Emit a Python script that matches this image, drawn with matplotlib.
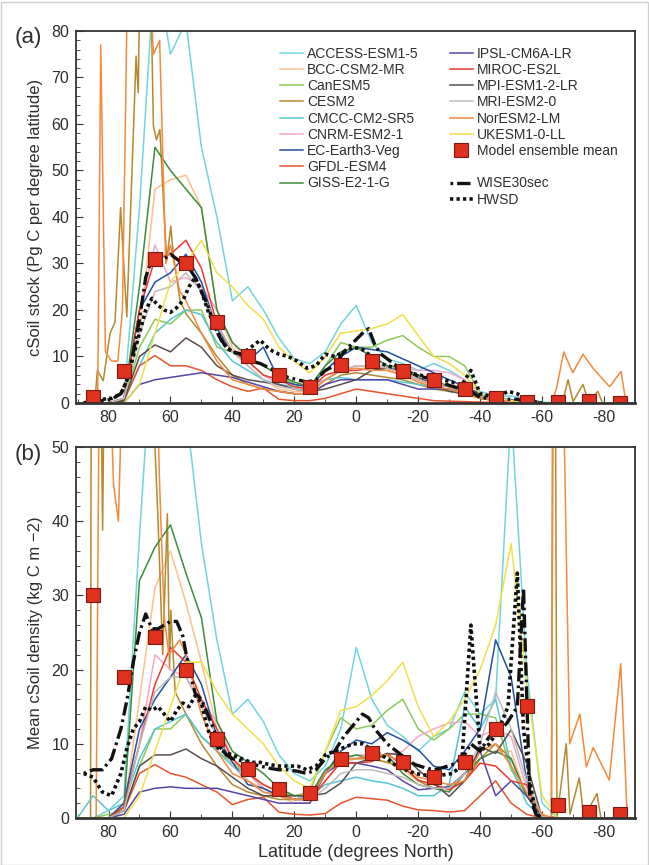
import numpy as np
import matplotlib.pyplot as plt
from matplotlib.lines import Line2D
from matplotlib.patches import Rectangle

plt.rcParams['font.family'] = ['Liberation Sans', 'DejaVu Sans']
plt.rcParams['text.color'] = '#2e2e2e'
plt.rcParams['xtick.labelcolor'] = '#2e2e2e'
plt.rcParams['ytick.labelcolor'] = '#2e2e2e'
plt.rcParams['axes.labelcolor'] = '#2e2e2e'

# common 5-degree latitude grid (90N .. 90S)
LAT = list(range(90, -91, -5))
ENS_LAT = list(range(85, -86, -10))

# ---------------- panel (a): cSoil stock (Pg C per degree latitude) ----------------
access_a = [0, 0, 0, 1, 42, 95, 75, 82, 55, 40, 22, 25, 20, 14, 9.5, 8.5, 11, 17, 21, 13,
            9.5, 8.5, 7, 8.5, 7, 5, 2.5, 1.5, 1.5, 1, 0.2, 0, 0, 0, 0, 0, 0]
bcc_a = [0, 0, 0, 0.5, 15, 46, 48, 49, 42, 20, 12, 8, 5, 3, 2.5, 2.5, 5, 7, 8, 7.5,
         7, 6, 4.5, 3.5, 3, 2.5, 1.5, 1, 0.5, 0.2, 0, 0, 0, 0, 0, 0, 0]
canesm_a = [0, 0, 0, 0.5, 12, 18, 17, 20, 20, 12, 11, 10, 8, 6, 4, 3.5, 8, 13, 12, 12,
            13.5, 14.5, 12, 10, 10, 8, 2, 1, 0.5, 0.2, 0, 0, 0, 0, 0, 0, 0]
cmcc_a = [0, 0, 0, 0.5, 8, 15, 18, 20, 19, 13, 9, 7, 5, 4, 3.5, 4, 5, 5.5, 5, 5,
          5, 4.5, 4, 3.5, 2.8, 2.8, 2, 1, 0.5, 0.2, 0, 0, 0, 0, 0, 0, 0]
cnrm_a = [0, 0, 0, 1, 20, 34, 26, 27, 25, 20, 13, 9, 6, 4, 3, 3, 5, 7, 8, 8,
          8, 7.5, 7, 7, 6.5, 5, 2, 1, 0.5, 0.2, 0, 0, 0, 0, 0, 0, 0]
ec_a = [0, 0, 0, 1, 20, 26, 28, 32, 26, 16, 11, 9, 12, 5, 4, 3.5, 7, 10, 12, 11.5,
        11, 9.5, 8, 6.5, 5, 3.5, 2, 1, 0.7, 0.2, 0, 0, 0, 0, 0, 0, 0]
gfdl_a = [0, 0, 0, 0.5, 8, 10.2, 8, 8, 7, 5, 3.5, 2.5, 3.2, 0.8, 0.5, 0.5, 1, 2, 3, 2.5,
          2, 1.5, 1, 0.5, 0.4, 0.3, 0.2, 0.1, 0, 0, 0, 0, 0, 0, 0, 0, 0]
giss_a = [0, 0, 0, 0.5, 25, 55, 50, 46, 42, 20, 13, 10, 8, 6, 4.5, 3.5, 8, 11, 12, 10,
          8, 7.5, 6, 5, 3.5, 2.5, 1, 0.5, 0.3, 0.1, 0, 0, 0, 0, 0, 0, 0]
ipsl_a = [0, 0, 0, 0, 4, 5, 5.5, 6, 6.5, 6, 5.5, 4.5, 3.5, 2.5, 2, 2, 4, 5, 5, 5,
          5, 4, 3, 3, 3, 2, 1.5, 0.5, 0.2, 0, 0, 0, 0, 0, 0, 0, 0]
miroc_a = [0, 0, 0, 1, 20, 31, 32, 35, 29, 17, 11, 9, 6, 5, 3.5, 3, 6, 7, 7, 7.5,
           7.5, 6.5, 5, 4, 3.5, 2.5, 1.5, 1, 0.5, 0.2, 0, 0, 0, 0, 0, 0, 0]
mpi_a = [0, 0, 0, 0.5, 10, 12.5, 11, 14, 12, 8, 6, 5, 4.5, 4, 3, 2.5, 3, 4, 5, 7,
         7.5, 7, 5.5, 4, 2.5, 2, 1.5, 1, 0.5, 0.2, 0, 0, 0, 0, 0, 0, 0]
mri_a = [0, 0, 0, 1, 15, 24, 25, 28, 24, 17, 11, 8, 5, 3.5, 3, 2.5, 5, 7, 8, 8,
         7.5, 6.5, 5, 4, 3.5, 2.5, 1.5, 1, 0.5, 0.2, 0, 0, 0, 0, 0, 0, 0]
ukesm_a = [0, 0, 0, 0, 4, 15, 26, 30, 35, 28, 25, 21, 18, 12, 9, 6.5, 10, 15, 15.5, 16,
           17, 19, 14.5, 10, 8.5, 6, 2, 1.2, 0.5, 0.3, 0, 0, 0, 0, 0, 0, 0]

cesm_lat_a = [90, 85, 84.4, 83.6, 81.7, 79.5, 77.9, 76.1, 74.1, 71.1, 70.4, 69.8, 66.5,
              65.5, 64.5, 63.4, 62.3, 61.2, 59.9, 59.1, 56.9, 54.8, 50, 45, 40, 35, 30,
              25, 20, 15, 10, 5, 0, -5, -10, -15, -20, -25, -30, -35, -40, -45, -50,
              -55, -60, -66.5, -68.4, -70, -73.2, -75, -78, -79.5, -90]
cesm_a = [0, 0, 0.5, 7, 4.8, 15, 17.4, 42, 18.5, 74.6, 66.7, 95, 95,
          59.5, 56.6, 58.8, 43.7, 30.7, 38, 32, 22, 19, 15, 10, 6, 4, 3,
          2.5, 2, 2, 4, 6, 6.5, 6, 5.5, 5, 4, 3, 2.5, 2, 1, 0.5, 0.3,
          0.1, 0, 0, 5, 0.3, 4, 0.2, 2.5, 0, 0]
nor_lat_a = [90, 85, 83.5, 82.5, 81, 79, 77, 75.5, 74, 72, 67, 65.5, 63.5, 61.5, 60, 57,
             55, 50, 45, 40, 35, 30, 25, 20, 15, 10, 5, 0, -5, -10, -15, -20, -25, -30,
             -35, -40, -45, -50, -55, -60, -63, -64.6, -67, -69.9, -73.2, -76.4, -81.8,
             -85.5, -87.1, -90]
nor_a = [0, 0, 0.5, 77, 11, 9, 9, 20, 85, 95, 95, 75, 78, 30, 34, 24,
         22, 15, 9, 5, 4, 3, 2.5, 2, 2, 5, 7, 7.5, 7, 7, 6, 4.5, 3.5, 3,
         2, 1, 0.7, 0.3, 0.1, 0, 0, 3, 11, 6.5, 10.5, 7.5, 3.5,
         6.8, 0, 0]

# observations (own latitude sampling)
OBS_LAT = [88, 85, 82, 79, 76, 74, 72, 70, 68, 66, 64, 62, 60, 58, 56, 54, 52, 50, 48, 46,
           44, 42, 40, 37, 34, 31, 28, 25, 22, 19, 16, 13, 10, 7, 4, 1, -2, -4, -6, -8,
           -10, -13, -16, -19, -22, -25, -28, -31, -34, -37, -40, -43, -46, -49, -52, -54,
           -56, -58, -60]
wise_a = [0, 0.3, 0.5, 0.8, 2, 5, 11, 18, 27, 31, 31.5, 31, 32, 31, 30, 29, 27, 24, 21, 17,
          14, 12, 11, 10.5, 9, 8.5, 7.5, 6.5, 5.5, 5, 4.5, 5, 7, 8, 11, 13, 15, 16, 12.5, 10.5,
          9.5, 8, 7, 6, 5.5, 5, 4.2, 3.6, 3, 2.5, 1.2, 1, 1, 0.8, 0.8, 0.4,
          0.2, 0, 0]
hwsd_a = [0, 0.5, 0.8, 1, 2, 5, 10, 15, 20, 22.5, 21, 20, 19.5, 20.5, 22, 25, 27, 24, 20, 17,
          14, 12, 11, 10.5, 12, 13.5, 11.5, 10.5, 10, 9, 7.5, 8, 10.5, 10, 11, 12, 11.5, 10.5, 9.5, 8.5,
          8, 7.5, 7, 6.2, 5.8, 5.5, 5, 4.5, 3.8, 7, 2, 1.5, 1.5, 2.5, 2, 1.2,
          0.5, 0.2, 0]
ens_a = [1.2, 6.8, 31, 30, 17.5, 10, 6, 3.5, 8.2, 9.1, 6.9, 4.9, 3.0, 1.1, 0.3, 0.3, 0.5, 0.1]

# ---------------- panel (b): mean cSoil density (kg C m-2) ----------------
access_b = [0, 0, 1, 3, 38, 70, 65, 55, 37, 24, 14, 16, 13, 8.5, 6, 5, 7, 12, 23, 16,
            12.5, 11, 9, 11, 12, 17, 14, 16, 55, 20, 2, 0, 0, 0, 0, 0, 0]
bcc_b = [0, 0, 0, 1, 16, 31, 36, 29, 21, 12, 8, 5, 4, 3, 2, 2, 5, 7.5, 8, 8,
         7.5, 6.5, 5, 4.5, 4, 5, 8, 9, 9, 3, 0.2, 0, 0, 0, 0, 0, 0]
canesm_b = [0, 0, 0.5, 1, 7, 12, 12, 14, 11, 9, 7.5, 6, 4.5, 3.5, 3, 3.5, 9, 13.5, 12, 12.5,
            14.5, 16, 12, 10.5, 12, 14, 14, 13.5, 6.5, 3, 0.2, 0, 0, 0, 0, 0, 0]
cmcc_b = [0, 3, 1, 2, 8, 12, 13, 14, 11, 9, 7, 6, 4, 3, 2.5, 3, 4.5, 5, 5.5, 5,
          4.7, 4, 3, 3, 4.5, 15, 12, 16, 7, 2, 0, 0, 0, 0, 0, 0, 0]
cnrm_b = [0, 0, 0, 2, 10, 22, 20, 19, 15.5, 13, 8, 6, 4, 3, 2.5, 2.5, 6, 8, 8.5, 8.5,
          8.5, 9, 11, 12, 12.8, 13, 11, 12, 11, 4, 0.2, 0, 0, 0, 0, 0, 0]
ec_b = [0, 0, 0, 2, 12, 16, 19, 22, 18, 11, 7.5, 4.5, 4, 3, 2.5, 2.5, 6, 9, 10.5, 10,
        11.5, 10.5, 9.2, 7, 6.5, 9, 12, 24, 19, 5, 0, 0, 0, 0, 0, 0, 0]
gfdl_b = [0, 0, 0, 1, 6, 7.2, 6, 5.5, 4.5, 3.5, 1.8, 2.5, 2.8, 0.8, 0.5, 0.4, 0.6, 2, 2.8, 2.6,
          2.4, 1.6, 1.1, 1, 0.8, 1, 3, 5, 2, 0.5, 0, 0, 0, 0, 0, 0, 0]
giss_b = [0, 0, 0, 1.5, 32, 36.5, 39.5, 33, 27, 13, 9, 7.5, 6, 4, 3, 3, 6.5, 8, 8.5, 8,
          8.5, 6, 4.5, 4, 3.5, 6, 8, 9, 8, 3, 0.2, 0, 0, 0, 0, 0, 0]
ipsl_b = [0, 0, 0, 0.5, 3.5, 4, 4.2, 4, 4, 4, 3.5, 3, 2.5, 2, 2, 2, 6, 7.4, 7.4, 7,
          6.5, 5, 3.8, 4, 4.2, 6, 9, 3, 5, 3, 0.2, 0, 0, 0, 0, 0, 0]
miroc_b = [0, 0, 0, 1.5, 10, 18, 23, 21, 16, 12, 8, 6, 4.5, 3.5, 2.5, 2.5, 5, 7.5, 7.4, 7.6,
           8.7, 7, 5.1, 4.5, 3.8, 5, 7.4, 7, 5, 4.5, 0.3, 0, 0, 0, 0, 0, 0]
mpi_b = [0, 0, 0, 1, 7, 8.5, 8.5, 9.3, 8, 7, 5.5, 4, 3, 3, 3, 3, 3.3, 4.7, 7.4, 8,
         8.7, 8.5, 6.5, 4.7, 2.9, 5, 9.6, 8.7, 11.9, 7.4, 0, 0, 0, 0, 0, 0, 0]
mri_b = [0, 0, 0, 1, 10, 17, 19, 19, 15, 11, 7, 5, 3.5, 3, 2.5, 2.5, 4, 6, 6.5, 6.5,
         6, 5.5, 4.5, 4, 4, 6, 10, 17, 12, 5, 0.2, 0, 0, 0, 0, 0, 0]
ukesm_b = [0, 0, 0, 0, 3, 9, 15, 21, 21, 17, 14, 12, 10, 7, 5, 4, 9, 14.5, 15, 16.5,
           18.5, 21, 15, 11, 13, 16, 20, 26, 37, 18, 3, 0, 0, 0, 0, 0, 0]

cesm_lat_b = [90, 85.8, 85.6, 82.5, 81.9, 81.4, 66, 64, 62.5, 61, 60.3, 59.9, 58.5, 55, 50,
              45, 40, 35, 30, 25, 20, 15, 10, 5, 0, -5, -10, -15, -20, -25, -30, -35, -40,
              -45, -50, -55, -60, -63, -63.4, -64.3, -64.8, -67.8, -69, -72, -73.5, -77.7,
              -79, -90]
cesm_b = [0, 0, 60, 60, 38.8, 60, 60, 40, 22, 41, 20, 28, 17, 14, 10,
          7, 4.5, 3.5, 3, 2.5, 2.5, 3, 6, 8, 8, 8, 7.5, 7, 5, 4, 4, 5, 8,
          10, 8, 3, 0.5, 0, 60, 60, 0, 10, 0.5, 5.4, 0, 3.3,
          0, 0]
nor_lat_b = [90, 84, 83, 80, 79.5, 78.4, 76.8, 75.5, 66, 64.5, 63.5, 62, 60.5, 57, 55, 52,
             50, 45, 40, 35, 30, 25, 20, 15, 10, 5, 0, -5, -10, -15, -20, -25, -30, -35,
             -40, -45, -50, -55, -60, -63, -63.6, -66.8, -68.9, -72.2, -74.3, -76.5, -81.7,
             -85.4, -87.5, -90]
nor_b = [0, 0, 60, 60, 60, 45, 40, 60, 60, 60, 45, 27, 22, 24, 22, 17,
         14, 9, 6, 5, 3.5, 3, 2.5, 2.5, 6, 8, 8, 8.5, 8.5, 7.5, 5.5, 5, 4.5, 5,
         9, 10, 7, 3.5, 0.5, 0, 60, 60, 10, 14, 6.9, 9.5, 5.1,
         20.8, 0, 0]

wise_b = [6, 6.5, 6.5, 8, 12, 16, 21, 25, 27.5, 25.5, 25.5, 26, 26.5, 26.5, 24.5, 20, 16.8, 16, 14, 12,
          9.6, 8.5, 8, 7.7, 7.3, 7, 6.7, 6.5, 6.5, 6.3, 6, 6.5, 8, 9, 11, 12.5, 14, 13.5, 12, 11,
          10, 9, 8, 7.2, 6.8, 6.5, 6.8, 7.2, 7.8, 10, 9, 11, 11.5, 13, 15, 31,
          3, 0.5, 0]
hwsd_b = [6, 5.5, 3.5, 3, 6, 9.5, 12, 13, 15, 14.5, 15, 14, 13, 14.5, 15.5, 15, 16.5, 15.5, 12, 10,
          9.2, 8.8, 8.5, 8, 7.5, 7.5, 7.2, 7, 7, 7, 6.5, 7, 8.5, 9, 9.5, 10, 10, 9.5, 9, 8.5,
          8, 7, 6.5, 6, 5.8, 5.5, 5.8, 6, 7, 26, 9, 10, 12, 15, 33, 12,
          5, 0.5, 0]
ens_b = [30, 19, 24.4, 20, 10.6, 6.6, 3.9, 3.4, 8.0, 8.7, 7.6, 5.5, 7.5, 12, 15.1, 1.75, 0.85, 0.6]

MODELS = ['ACCESS-ESM1-5', 'BCC-CSM2-MR', 'CanESM5', 'CESM2', 'CMCC-CM2-SR5',
          'CNRM-ESM2-1', 'EC-Earth3-Veg', 'GFDL-ESM4', 'GISS-E2-1-G', 'IPSL-CM6A-LR',
          'MIROC-ES2L', 'MPI-ESM1-2-LR', 'MRI-ESM2-0', 'NorESM2-LM', 'UKESM1-0-LL']
COLORS = ['#74d4dc', '#f9c28c', '#8fc95b', '#b38a2d', '#55c6d2',
          '#f2a8ca', '#24509f', '#e4552f', '#3b8b3d', '#5646a4',
          '#ea3a30', '#5a4e4e', '#bdbdbd', '#f38a3d', '#f0e04a']

series_a = [(LAT, access_a), (LAT, bcc_a), (LAT, canesm_a), (cesm_lat_a, cesm_a),
            (LAT, cmcc_a), (LAT, cnrm_a), (LAT, ec_a), (LAT, gfdl_a), (LAT, giss_a),
            (LAT, ipsl_a), (LAT, miroc_a), (LAT, mpi_a), (LAT, mri_a),
            (nor_lat_a, nor_a), (LAT, ukesm_a)]
series_b = [(LAT, access_b), (LAT, bcc_b), (LAT, canesm_b), (cesm_lat_b, cesm_b),
            (LAT, cmcc_b), (LAT, cnrm_b), (LAT, ec_b), (LAT, gfdl_b), (LAT, giss_b),
            (LAT, ipsl_b), (LAT, miroc_b), (LAT, mpi_b), (LAT, mri_b),
            (nor_lat_b, nor_b), (LAT, ukesm_b)]

WISE_STYLE = dict(color='#111111', lw=2.4, linestyle=(0, (0.8, 1.2, 4.0, 1.2)))
HWSD_STYLE = dict(color='#111111', lw=2.6, linestyle=(0, (0.9, 0.9)))
SQ_STYLE = dict(ls='none', marker='s', ms=10, mfc='#e0301e', mec='#7a1a10', mew=0.8)

W, H = 649, 865
fig = plt.figure(figsize=(W / 100, H / 100), dpi=100)
fig.patches.append(Rectangle((0.5 / W, 0.5 / H), 1 - 2 / W, 1 - 2 / H, transform=fig.transFigure,
                             fill=False, ec='#cfcfcf', lw=1))

ax_a = fig.add_axes([76 / W, 1 - 403 / H, 559 / W, 372 / H])
ax_b = fig.add_axes([76 / W, 1 - 818 / H, 559 / W, 371 / H])


def draw(ax, series, wise, hwsd, ens, ymax, ylabel):
    for (lat, val), c in zip(series, COLORS):
        ax.plot(lat, val, color=c, lw=1.1)
    ax.plot(OBS_LAT, wise, **WISE_STYLE)
    ax.plot(OBS_LAT, hwsd, **HWSD_STYLE)
    ax.plot(ENS_LAT, ens, **SQ_STYLE)
    ax.set_xlim(90.5, -90)
    ax.set_ylim(0, ymax)
    ax.set_xticks(range(80, -81, -20))
    ax.set_xticks(range(90, -91, -10), minor=True)
    ax.set_yticks(range(0, ymax + 1, 10))
    ax.set_yticks(range(0, ymax + 1, 2), minor=True)
    ax.tick_params(which='both', direction='in', top=False, right=False,
                   labelsize=11.5, color='#333333')
    ax.tick_params(which='major', length=5, pad=5)
    ax.tick_params(which='minor', length=3)
    ax.set_xticklabels([str(v) for v in range(80, -81, -20)])
    for s in ax.spines.values():
        s.set_color('#333333')
        s.set_linewidth(1.3)
    ax.spines['bottom'].set_linewidth(2)
    ax.set_ylabel(ylabel, fontsize=12, labelpad=6)


draw(ax_a, series_a, wise_a, hwsd_a, ens_a, 80, 'cSoil stock (Pg C per degree latitude)')
draw(ax_b, series_b, wise_b, hwsd_b, ens_b, 50, 'Mean cSoil density (kg C m \u22122)')
ax_b.set_xlabel('Latitude (degrees North)', fontsize=13, labelpad=3)

fig.text(15 / W, 1 - 43 / H, '(a)', fontsize=16)
fig.text(15 / W, 1 - 460 / H, '(b)', fontsize=16)

# legend
handles = [Line2D([], [], color=c, lw=1.1) for c in COLORS]
leg_kw = dict(loc='upper left', frameon=False, fontsize=10, handlelength=1.65,
              handletextpad=0.3, labelspacing=0.16, borderaxespad=0, borderpad=0)
leg1 = ax_a.legend(handles[:9], MODELS[:9], bbox_to_anchor=(0.365, 0.958), **leg_kw)
ax_a.add_artist(leg1)
h2 = handles[9:] + [Line2D([], [], **SQ_STYLE), Line2D([], [], ls='none'),
                    Line2D([], [], **WISE_STYLE), Line2D([], [], **HWSD_STYLE)]
l2 = MODELS[9:] + ['Model ensemble mean', ' ', 'WISE30sec', 'HWSD']
ax_a.legend(h2, l2, bbox_to_anchor=(0.669, 0.958), **leg_kw)

fig.savefig('out.png', dpi=100)
